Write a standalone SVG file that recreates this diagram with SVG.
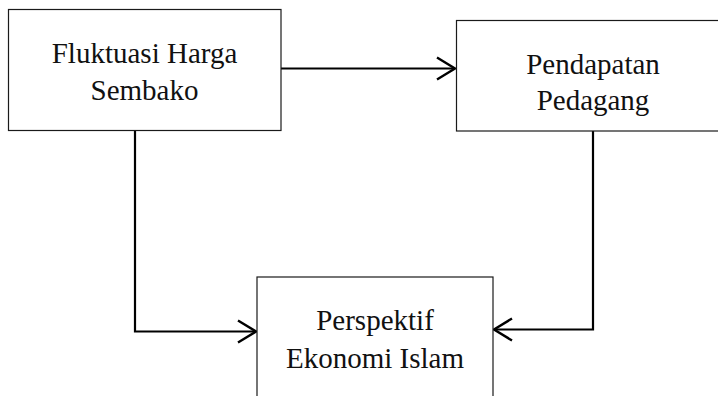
<svg xmlns="http://www.w3.org/2000/svg" width="718" height="396" viewBox="0 0 718 396">
  <defs>
    <style>
      .box { fill: #fff; stroke: #1a1a1a; stroke-width: 1.2; }
      .lbl { font-family: "Liberation Serif", "Times New Roman", serif; font-size: 29px; fill: #111; text-anchor: middle; }
      .con { fill: none; stroke: #000; stroke-width: 2.2; }
    </style>
    <marker id="arr" markerUnits="userSpaceOnUse" markerWidth="24" markerHeight="26" refX="20" refY="12" orient="auto" viewBox="0 0 24 24">
      <path d="M2,1 L20,12 L2,23" fill="none" stroke="#000" stroke-width="2.4"/>
    </marker>
  </defs>
  <rect width="718" height="396" fill="#fff"/>
  <g id="connectors">
    <path class="con" d="M281,68.5 H455" marker-end="url(#arr)"/>
    <path class="con" d="M135,131 V331.5 H256" marker-end="url(#arr)"/>
    <path class="con" d="M593,131 V329.5 H494" marker-end="url(#arr)"/>
  </g>
  <g id="node-fluktuasi">
    <rect class="box" x="8.5" y="9.5" width="272.5" height="121"/>
    <text class="lbl" x="144.5" y="63">Fluktuasi Harga</text>
    <text class="lbl" x="144.5" y="100">Sembako</text>
  </g>
  <g id="node-pendapatan">
    <rect class="box" x="456.5" y="20.5" width="275" height="110.5"/>
    <text class="lbl" x="593" y="74">Pendapatan</text>
    <text class="lbl" x="593" y="110">Pedagang</text>
  </g>
  <g id="node-perspektif">
    <rect class="box" x="257" y="277" width="236" height="130"/>
    <text class="lbl" x="375" y="330">Perspektif</text>
    <text class="lbl" x="375" y="368">Ekonomi Islam</text>
  </g>
</svg>
